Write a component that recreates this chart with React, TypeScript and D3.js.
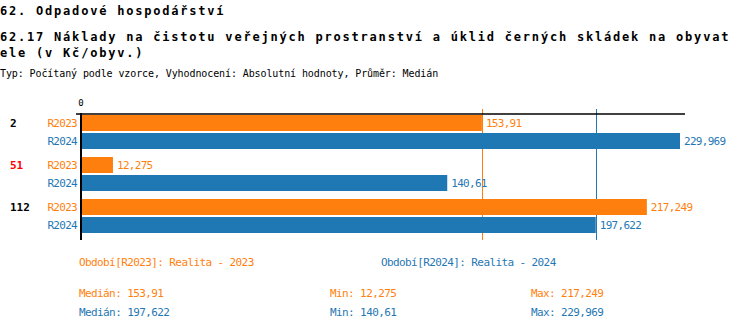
import React from "react";
import * as d3 from "d3";

const categories = ["2", "51", "112"];
const categoryColors = ["#000000", "#ff0000", "#000000"];
const seriesKeys = ["R2023", "R2024"];
const seriesNames = ["Realita - 2023", "Realita - 2024"];
const seriesColors = ["#ff7f0e", "#1f77b4"];
const values2023 = [153.91, 12.275, 217.249];
const values2024 = [229.969, 140.61, 197.622];
const titleLines = [
  "62. Odpadové hospodářství",
  "62.17 Náklady na čistotu veřejných prostranství a úklid černých skládek na obyvat",
  "ele (v Kč/obyv.)",
];
const subtitle = "Typ: Počítaný podle vzorce, Vyhodnocení: Absolutní hodnoty, Průměr: Medián";

const W = 750;
const H = 330;
const FONT = "'DejaVu Sans Mono', monospace";

const fmt = (v: number) => String(v).replace(".", ",");

export default function App() {
  const series = [values2023, values2024];
  const maxV = d3.max(series.flat()) as number;
  const x = d3.scaleLinear().domain([0, maxV]).range([81, 680]);
  const y0 = d3.scaleBand<string>().domain(categories).range([114, 240]).paddingInner(0);
  const y1 = d3
    .scaleBand<string>()
    .domain(seriesKeys)
    .range([1, 35])
    .paddingInner(2 / 18);
  const medians = series.map((s) => d3.median(s) as number);
  const mins = series.map((s) => d3.min(s) as number);
  const maxs = series.map((s) => d3.max(s) as number);

  const chartText = { fontFamily: FONT, fontSize: 11, letterSpacing: -0.7 };

  return (
    <svg
      width={W}
      height={H}
      style={{ position: "absolute", left: 0, top: 0, display: "block", background: "#fff" }}
    >
      {titleLines.map((t, i) => (
        <text
          key={i}
          x={0}
          y={[15, 41, 57][i]}
          fontFamily={FONT}
          fontSize={12}
          fontWeight="bold"
          letterSpacing={1.79}
          fill="#000"
        >
          {t}
        </text>
      ))}
      <text x={0} y={77} fontFamily={FONT} fontSize={10} letterSpacing={-0.1} fill="#000">
        {subtitle}
      </text>

      {/* zero tick label */}
      <text x={x(0)} y={106} textAnchor="middle" fontFamily={FONT} fontSize={9} fill="#000">
        0
      </text>

      {/* median lines */}
      {medians.map((m, i) => (
        <line
          key={"med" + i}
          x1={Math.round(x(m)) + 0.5}
          x2={Math.round(x(m)) + 0.5}
          y1={109}
          y2={240}
          stroke={seriesColors[i]}
          strokeWidth={1}
        />
      ))}

      {/* bars */}
      {categories.map((c, ci) => (
        <g key={c} transform={`translate(0,${y0(c)})`}>
          {seriesKeys.map((s, si) => {
            const v = series[si][ci];
            const yy = y1(s)!;
            const bw = y1.bandwidth();
            return (
              <g key={s}>
                <rect x={x(0)} y={yy} width={x(v) - x(0)} height={bw} fill={seriesColors[si]} />
                <text
                  x={77}
                  y={yy + bw / 2}
                  dy="0.35em"
                  textAnchor="end"
                  fill={seriesColors[si]}
                  {...chartText}
                >
                  {s}
                </text>
                <text x={x(v) + 4} y={yy + bw / 2} dy="0.35em" fill={seriesColors[si]} {...chartText}>
                  {fmt(v)}
                </text>
              </g>
            );
          })}
          <text
            x={10}
            y={y1(seriesKeys[0])! + y1.bandwidth() / 2}
            dy="0.35em"
            fontFamily={FONT}
            fontSize={11}
            fontWeight="bold"
            fill={categoryColors[ci]}
          >
            {c}
          </text>
        </g>
      ))}

      {/* axes */}
      <line x1={76} x2={685} y1={114} y2={114} stroke="#000" strokeWidth={1.5} />
      <line x1={81} x2={81} y1={113} y2={240} stroke="#000" strokeWidth={2} />

      {/* legend */}
      {seriesKeys.map((s, i) => (
        <text
          key={"leg" + s}
          x={[79, 381][i]}
          y={266}
          fill={seriesColors[i]}
          fontFamily={FONT}
          fontSize={11}
          letterSpacing={-0.6}
        >
          {`Období[${s}]: ${seriesNames[i]}`}
        </text>
      ))}
      {seriesKeys.map((s, i) => (
        <g key={"stats" + s} fill={seriesColors[i]} fontFamily={FONT} fontSize={11} letterSpacing={-0.6}>
          <text x={79} y={[297, 316][i]}>{`Medián: ${fmt(medians[i])}`}</text>
          <text x={330} y={[297, 316][i]}>{`Min: ${fmt(mins[i])}`}</text>
          <text x={531} y={[297, 316][i]}>{`Max: ${fmt(maxs[i])}`}</text>
        </g>
      ))}
    </svg>
  );
}
